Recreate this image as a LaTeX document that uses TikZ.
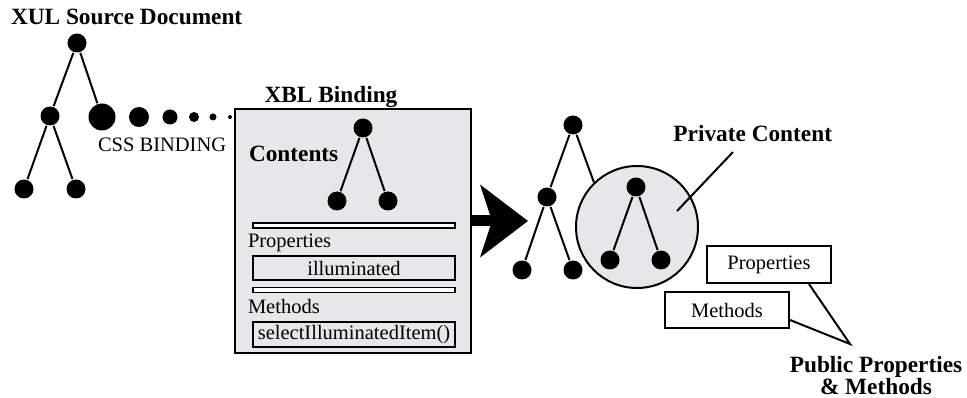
\documentclass[tikz,border=0pt]{standalone}
\usepackage{fontspec}
\setmainfont{Liberation Serif}
\usetikzlibrary{arrows.meta}
\definecolor{bindgray}{HTML}{E6E7E8}
\begin{document}
\begin{tikzpicture}[x=1pt,y=-1pt,line width=2pt,
    dot/.style={circle,fill=black,inner sep=0pt,minimum size=19pt},
    head/.style={font=\fontsize{23.3}{24}\selectfont\bfseries,inner sep=0pt},
    txt/.style={font=\fontsize{20.5}{22}\selectfont,inner sep=0pt},
    slot/.style={draw,inner sep=0pt,minimum width=202pt,font=\fontsize{20.5}{22}\selectfont},
    bar/.style={draw,fill=white,line width=1.8pt,inner sep=0pt,minimum width=202pt,minimum height=5pt},
    pub/.style={draw,fill=white,inner sep=0pt,minimum width=124pt,font=\fontsize{20.5}{22}\selectfont}]
    \useasboundingbox (0,0) rectangle (967,398);
    % source document
    \node[head,anchor=base west] (xul) at (10,25) {XUL Source Document};
    \node[dot] (x1) at (77,43) {};
    \node[dot] (x2) at (50,116) {};
    \node[dot,minimum size=27pt] (x3) at (102,117) {};
    \node[dot] (x4) at (24,189) {};
    \node[dot] (x5) at (76,189) {};
    \draw (x1)--(x2);
    \draw (x1)--(x3);
    \draw (x2)--(x4);
    \draw (x2)--(x5);
    \foreach \n/\px/\d in {1/139/20,2/170/15,3/194/10,4/213/7,5/230/4}
        \node[dot,minimum size=\d pt] (css\n) at (\px,117) {};
    \node[txt,anchor=base west] (csslbl) at (97,152) {CSS BINDING};
    % binding
    \node[head,anchor=base] (xbl) at (331,103) {XBL Binding};
    \node[draw,fill=bindgray,line width=2.5pt,minimum width=236pt,minimum height=244pt] (bind) at (353,231) {};
    \node[head,anchor=base west] (cont) at (248,162) {Contents};
    \node[dot] (b1) at (363,128) {};
    \node[dot] (b2) at (337,201) {};
    \node[dot] (b3) at (388,201) {};
    \draw (b1)--(b2);
    \draw (b1)--(b3);
    \node[bar] (bar1) at (354,225.5) {};
    \node[txt,anchor=base west] (props) at (247,248) {Properties};
    \node[slot,minimum height=24pt] (illum) at (354,268) {illuminated};
    \node[bar] (bar2) at (354,290) {};
    \node[txt,anchor=base west] (meths) at (247,313) {Methods};
    \node[slot,minimum height=25pt] (selitem) at (354,334.5) {selectIlluminatedItem()};
    % bound element
    \coordinate (arrtip) at (528,221);
    \draw[line width=11pt,-{Stealth[length=48pt,width=73pt,inset=12pt,line width=0pt]}] (bind.east |- arrtip) -- (arrtip);
    \node[circle,draw,fill=bindgray,inner sep=0pt,minimum size=122pt] (priv) at (637,227) {};
    \node[dot] (t1) at (573,125) {};
    \node[dot] (t2) at (547,197) {};
    \node[dot] (t3) at (522,270) {};
    \node[dot] (t4) at (573,270) {};
    \draw (t1)--(t2);
    \draw (t2)--(t3);
    \draw (t2)--(t4);
    \draw (t1)--(priv.134);
    \node[dot] (p1) at (636,187) {};
    \node[dot] (p2) at (610,260) {};
    \node[dot] (p3) at (661,260) {};
    \draw (p1)--(p2);
    \draw (p1)--(p3);
    \node[head,anchor=base east] (privlbl) at (833,142) {Private Content};
    \coordinate (privin) at (677,211);
    \coordinate (privend) at (733,152);
    \draw (privin)--(privend);
    % public interface
    \node[pub,minimum height=37pt] (pprop) at (769,264.5) {Properties};
    \node[pub,minimum height=36pt] (pmeth) at (727,310) {Methods};
    \coordinate (pubtip) at (850,344);
    \draw (pprop.-26)--(pubtip)--(pmeth.-9);
    \node[head,align=center,anchor=north,font=\fontsize{23.3}{19.5}\selectfont\bfseries] (publbl) at (876,355) {Public Properties\\\& Methods};
\end{tikzpicture}
\end{document}
